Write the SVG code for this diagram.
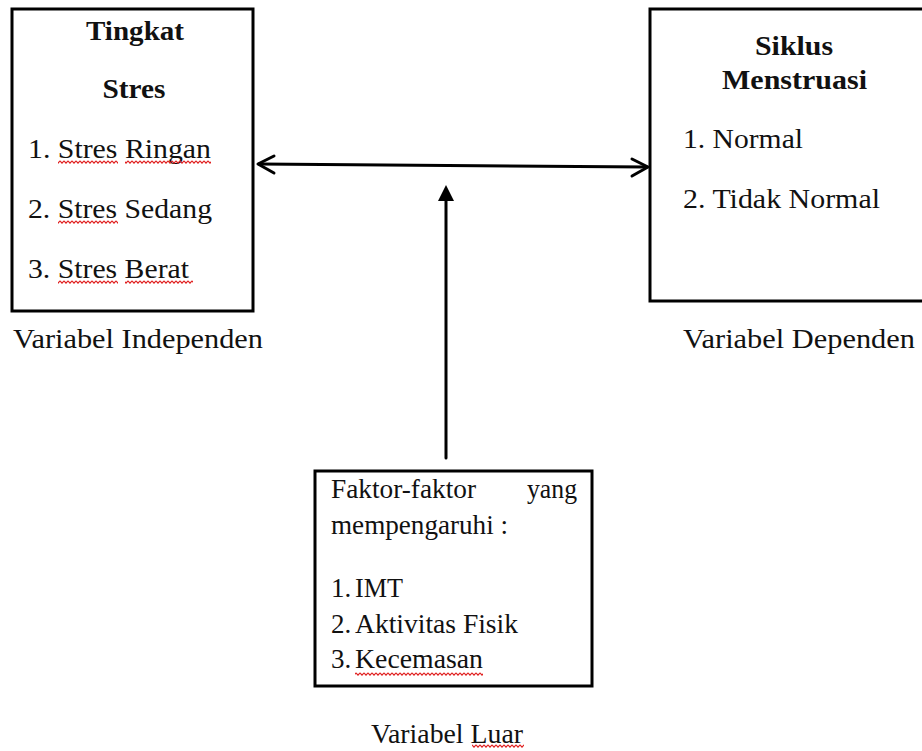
<svg xmlns="http://www.w3.org/2000/svg" width="922" height="751" viewBox="0 0 922 751">
<defs>
<style>
.box{fill:#fff;stroke:#000;stroke-width:3}
.t{font-family:'Liberation Serif','Times New Roman',Times,Tinos,serif;font-size:27px;fill:#111}
.b{font-weight:bold}
.m{text-anchor:middle}
.ln{stroke:#000;stroke-width:3;fill:none;stroke-linecap:round;stroke-linejoin:round}
.sq{fill:url(#squiggle)}
</style>
<pattern id="squiggle" patternUnits="userSpaceOnUse" width="4" height="4">
<path d="M0 0.8 L2 3.2 L4 0.8" stroke="#e02020" stroke-width="1.1" fill="none"/>
</pattern>
</defs>
<rect width="922" height="751" fill="#fff"/>
<g id="connectors">
<line class="ln" x1="259" y1="164" x2="647" y2="167"/>
<polyline class="ln" points="274,156 258,164 274,173"/>
<polyline class="ln" points="632,159 648,167 632,176"/>
<line class="ln" x1="446" y1="458" x2="446" y2="198"/>
<polygon points="446,185 438,201 454,201" fill="#000"/>
</g>
<g id="node-stres">
<rect class="box" x="12" y="9" width="241" height="302"/>
<text class="t b m" x="135" y="40" font-family="Liberation Serif" textLength="98" lengthAdjust="spacingAndGlyphs">Tingkat</text>
<text class="t b m" x="134" y="98" font-family="Liberation Serif" textLength="63" lengthAdjust="spacingAndGlyphs">Stres</text>
<text class="t" x="28" y="158" font-family="Liberation Serif" textLength="183" lengthAdjust="spacingAndGlyphs">1. Stres Ringan</text>
<text class="t" x="28" y="218" font-family="Liberation Serif" textLength="184" lengthAdjust="spacingAndGlyphs">2. Stres Sedang</text>
<text class="t" x="28" y="278" font-family="Liberation Serif" textLength="161" lengthAdjust="spacingAndGlyphs">3. Stres Berat</text>
<rect class="sq" x="58" y="160" width="60" height="4"/>
<rect class="sq" x="125" y="160" width="86" height="4"/>
<rect class="sq" x="58" y="220" width="60" height="4"/>
<rect class="sq" x="58" y="280" width="60" height="4"/>
<rect class="sq" x="125" y="280" width="68" height="4"/>
</g>
<g id="label-independen">
<text class="t" x="13" y="348" font-family="Liberation Serif" textLength="250" lengthAdjust="spacingAndGlyphs">Variabel Independen</text>
</g>
<g id="node-siklus">
<rect class="box" x="650" y="9" width="290" height="292"/>
<text class="t b m" x="794" y="55" font-family="Liberation Serif" textLength="78" lengthAdjust="spacingAndGlyphs">Siklus</text>
<text class="t b m" x="794.5" y="89" font-family="Liberation Serif" textLength="145" lengthAdjust="spacingAndGlyphs">Menstruasi</text>
<text class="t" x="683" y="148" font-family="Liberation Serif" textLength="120" lengthAdjust="spacingAndGlyphs">1. Normal</text>
<text class="t" x="683" y="208" font-family="Liberation Serif" textLength="197" lengthAdjust="spacingAndGlyphs">2. Tidak Normal</text>
</g>
<g id="label-dependen">
<text class="t" x="683" y="348" font-family="Liberation Serif" textLength="232" lengthAdjust="spacingAndGlyphs">Variabel Dependen</text>
</g>
<g id="node-faktor">
<rect class="box" x="315" y="471" width="277" height="215"/>
<text class="t" x="331" y="498" font-family="Liberation Serif" textLength="145" lengthAdjust="spacingAndGlyphs">Faktor-faktor</text>
<text class="t" x="527" y="498" font-family="Liberation Serif" textLength="50" lengthAdjust="spacingAndGlyphs">yang</text>
<text class="t" x="331" y="534" font-family="Liberation Serif" textLength="177" lengthAdjust="spacingAndGlyphs">mempengaruhi :</text>
<text class="t" x="331" y="597" font-family="Liberation Serif">1.</text>
<text class="t" x="355" y="597" font-family="Liberation Serif" textLength="48" lengthAdjust="spacingAndGlyphs">IMT</text>
<text class="t" x="331" y="633" font-family="Liberation Serif">2.</text>
<text class="t" x="355" y="633" font-family="Liberation Serif" textLength="163" lengthAdjust="spacingAndGlyphs">Aktivitas Fisik</text>
<text class="t" x="331" y="668" font-family="Liberation Serif">3.</text>
<text class="t" x="355" y="668" font-family="Liberation Serif" textLength="128" lengthAdjust="spacingAndGlyphs">Kecemasan</text>
<rect class="sq" x="355" y="672" width="128" height="4"/>
</g>
<g id="label-luar">
<text class="t" x="371" y="743" font-family="Liberation Serif" textLength="152" lengthAdjust="spacingAndGlyphs">Variabel Luar</text>
<rect class="sq" x="472" y="744" width="52" height="4"/>
</g>
</svg>
